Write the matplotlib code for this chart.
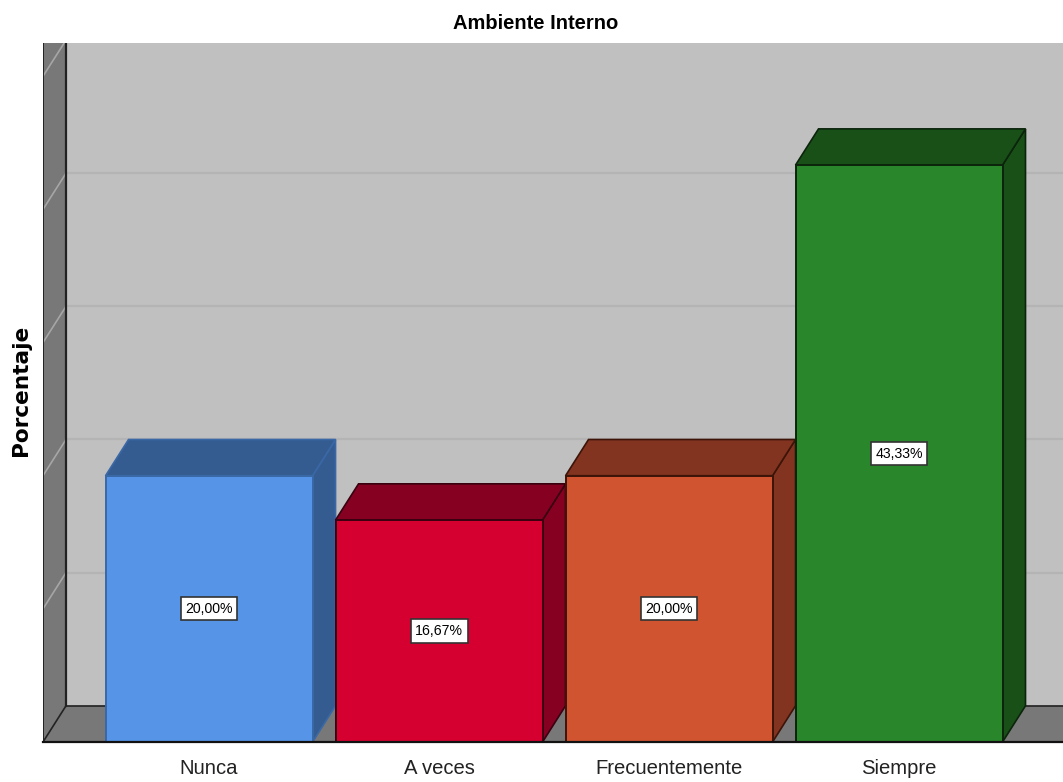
#!/usr/bin/env python
import matplotlib
matplotlib.use('Agg')
import matplotlib.pyplot as plt

categories = ['Nunca', 'A veces', 'Frecuentemente', 'Siempre']
percent = [20.00, 16.67, 20.00, 43.33]
value_labels = ['20,00%', '16,67%', '20,00%', '43,33%']
grid_values = [10, 20, 30, 40, 50]

front_colors = ['#5594E6', '#D60030', '#D05430', '#2A862A']
dark_colors = ['#345C90', '#860022', '#823420', '#185018']
edge_colors = ['#3A68A6', '#3A0010', '#3C1408', '#0C240C']

# depth of the fake 3D box, in axis units
DX = 0.1
DY = 2.72
BAR_W = 0.9
XMIN = -0.722
XMAX = 3.713
YMAX = 52.5

fig = plt.figure(figsize=(10.63, 7.82), dpi=100)
ax = fig.add_axes([43 / 1063, 40 / 782, 1020 / 1063, 699 / 782])
ax.set_xlim(XMIN, XMAX)
ax.set_ylim(0, YMAX)
for s in ax.spines.values():
    s.set_visible(False)

# back wall, left wall and floor
wall_x = XMIN + DX
ax.fill([wall_x, XMAX, XMAX, wall_x], [DY, DY, YMAX, YMAX], color='#C0C0C0', lw=0, zorder=1)
ax.fill([XMIN, wall_x, wall_x, XMIN], [0, DY, YMAX, YMAX], color='#787878', lw=0, zorder=1)
ax.fill([XMIN, wall_x, XMAX, XMAX], [0, DY, DY, 0], color='#787878', lw=0, zorder=1)

for v in grid_values:
    ax.plot([wall_x, XMAX], [v + DY, v + DY], color='#B4B4B4', lw=1.6, zorder=2)
    ax.plot([XMIN, wall_x], [v, v + DY], color='#A6A6A6', lw=1.2, zorder=2)

ax.plot([XMIN, XMIN], [0, YMAX], color='#222222', lw=1.4, zorder=3)
ax.plot([wall_x, wall_x], [DY, YMAX], color='#222222', lw=1.6, zorder=3)
ax.plot([wall_x, XMAX], [DY, DY], color='#222222', lw=1.2, zorder=3)
ax.plot([XMIN, wall_x], [0, DY], color='#222222', lw=1.2, zorder=3)

# each box is drawn after the one on its left so that it covers the side face
for i, v in enumerate(percent):
    z = 4 + i
    x0 = i - BAR_W / 2
    x1 = i + BAR_W / 2
    ax.fill([x1, x1 + DX, x1 + DX, x1], [0, DY, v + DY, v],
            facecolor=dark_colors[i], edgecolor=edge_colors[i], lw=1.2, zorder=z)
    ax.fill([x0, x1, x1 + DX, x0 + DX], [v, v, v + DY, v + DY],
            facecolor=dark_colors[i], edgecolor=edge_colors[i], lw=1.2, zorder=z)
    ax.bar(i, v, width=BAR_W, color=front_colors[i], edgecolor=edge_colors[i], lw=1.4, zorder=z)
    ax.text(i, v / 2, value_labels[i], ha='center', va='center', fontsize=10.2,
            family='Liberation Sans', color='black', zorder=20,
            bbox=dict(boxstyle='square,pad=0.32', facecolor='white', edgecolor='#333333', lw=1.2))

ax.plot([XMIN, XMAX], [0, 0], color='#111111', lw=1.6, zorder=15, clip_on=False)

ax.set_xticks(range(len(categories)))
ax.set_xticklabels(categories, fontsize=14.6, family='Liberation Sans', color='#222222')
ax.tick_params(axis='x', length=0, pad=12)
ax.set_yticks([])

ax.set_title('Ambiente Interno', fontsize=14.5, fontweight='bold', family='Liberation Sans', pad=10)
ax.title.set_x((536 - 43) / 1020)
ax.set_ylabel('Porcentaje', fontsize=15.6, fontweight='bold', family='DejaVu Sans', va='center')
ax.yaxis.set_label_coords(-22 / 1020, (742 - 390) / 699)

plt.savefig('out.png', dpi=100)
plt.close()
